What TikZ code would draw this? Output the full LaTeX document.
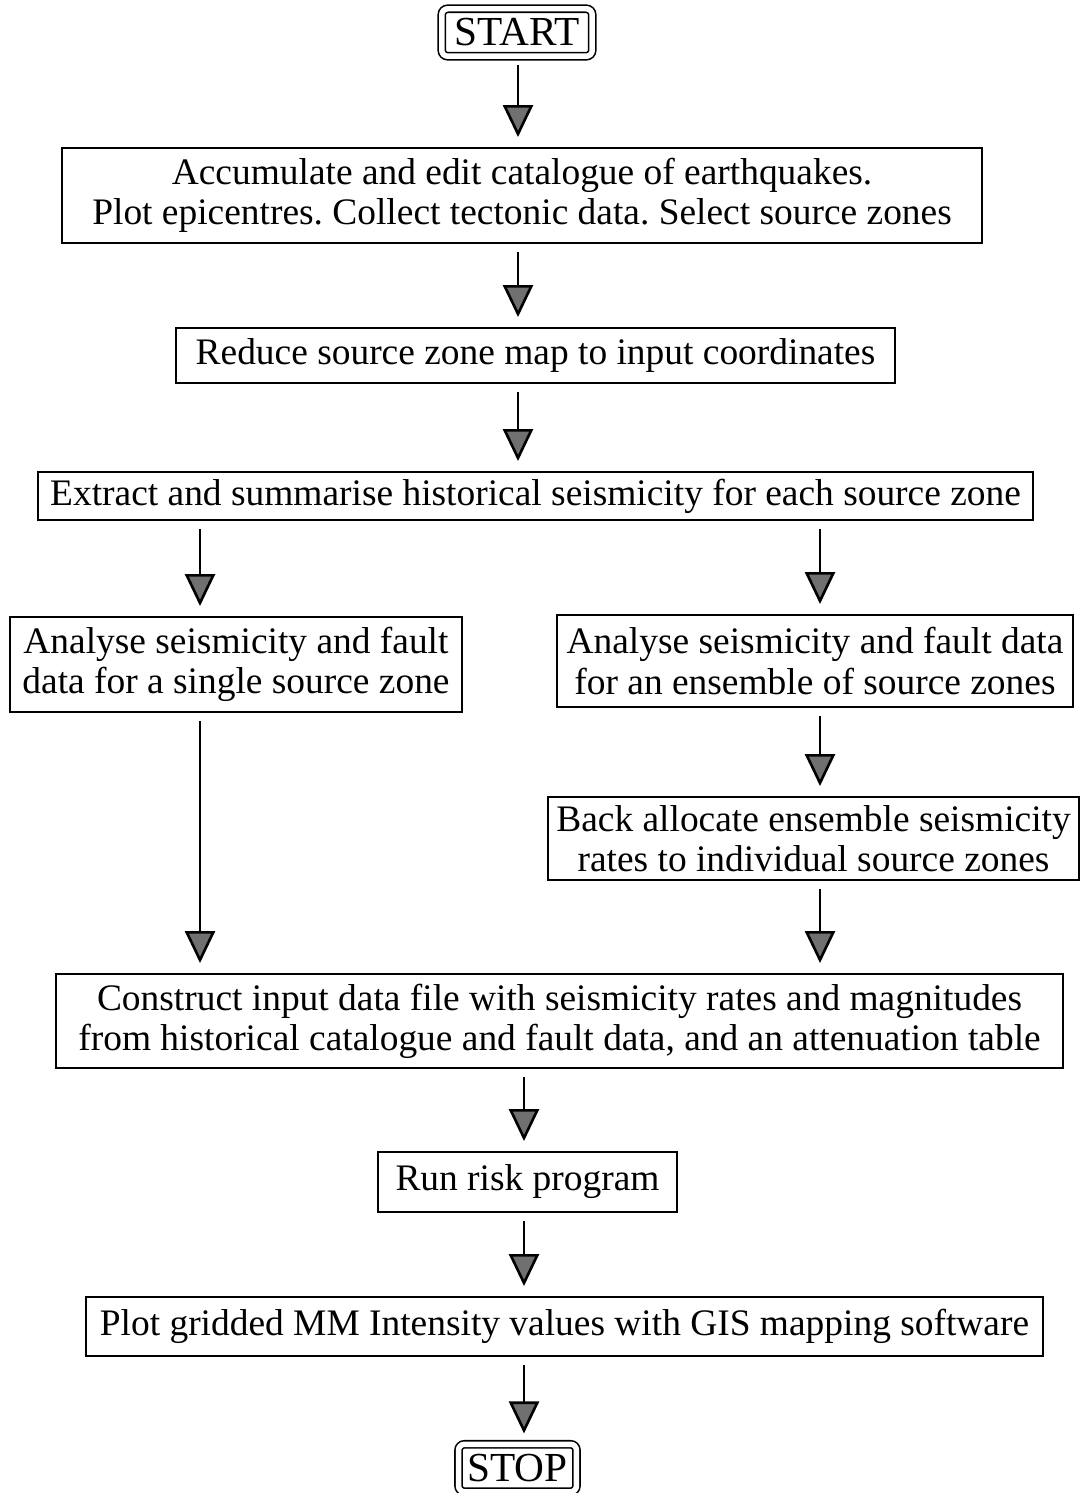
\documentclass[tikz,border=0pt]{standalone}
\usepackage{fontspec}
\setmainfont{Liberation Serif}
\usetikzlibrary{arrows.meta}
\definecolor{tipgray}{HTML}{707070}
\begin{document}
\frenchspacing
\begin{tikzpicture}[x=0.02cm,y=-0.02cm,
  box/.style={draw,line width=1.1pt,inner sep=0pt,align=center,font=\fontsize{21.3}{22.9}\selectfont},
  term/.style={box,double,double distance=0.11cm,rounded corners=0.12cm,line width=0.9pt,font=\fontsize{23.5}{25}\selectfont},
  arr/.style={line width=1.5pt,shorten <=0.16cm,shorten >=0.2cm,-{Triangle[width=0.6cm,length=0.64cm,fill=tipgray]}}]
\fill[white] (0,0) rectangle (1082,1493);
\useasboundingbox (0,0) rectangle (1082,1493);
% column coordinates for connectors
\coordinate (cx) at (518,0);
\coordinate (lx) at (200,0);
\coordinate (rx) at (820,0);
\coordinate (mx) at (524,0);
% nodes
\node[term,minimum width=3.01cm,minimum height=0.95cm] (start) at (517,32.5) {START};
\node[box,minimum width=18.4cm,minimum height=1.9cm] (b1) at (522,195.5)
  {Accumulate and edit catalogue of earthquakes.\\Plot epicentres. Collect tectonic data. Select source zones};
\node[box,minimum width=14.38cm,minimum height=1.1cm] (b2) at (535.5,355.5)
  {Reduce source zone map to input coordinates};
\node[box,minimum width=19.9cm,minimum height=0.96cm] (b3) at (535.5,496)
  {Extract and summarise historical seismicity for each source zone};
\node[box,minimum width=9.04cm,minimum height=1.9cm] (b4) at (236,664.5)
  {Analyse seismicity and fault\\data for a single source zone};
\node[box,minimum width=10.32cm,minimum height=1.84cm] (b5) at (815,661)
  {Analyse seismicity and fault data\\for an ensemble of source zones};
\node[box,minimum width=10.62cm,minimum height=1.66cm] (b6) at (813.5,838.5)
  {Back allocate ensemble seismicity\\rates to individual source zones};
\node[box,minimum width=20.14cm,minimum height=1.88cm] (b7) at (559.5,1021)
  {Construct input data file with seismicity rates and magnitudes\\from historical catalogue and fault data, and an attenuation table};
\node[box,minimum width=5.98cm,minimum height=1.2cm] (b8) at (527.5,1182)
  {Run risk program};
\node[box,minimum width=19.14cm,minimum height=1.18cm] (b9) at (564.5,1326.5)
  {Plot gridded MM Intensity values with GIS mapping software};
\node[term,minimum width=2.36cm,minimum height=0.95cm] (stop) at (517.5,1468) {STOP};
% connectors
\draw[arr] (start.south -| cx) -- (b1.north -| cx);
\draw[arr] (b1.south -| cx) -- (b2.north -| cx);
\draw[arr] (b2.south -| cx) -- (b3.north -| cx);
\draw[arr] (b3.south -| lx) -- (b4.north -| lx);
\draw[arr] (b3.south -| rx) -- (b5.north -| rx);
\draw[arr] (b5.south -| rx) -- (b6.north -| rx);
\draw[arr] (b4.south -| lx) -- (b7.north -| lx);
\draw[arr] (b6.south -| rx) -- (b7.north -| rx);
\draw[arr] (b7.south -| mx) -- (b8.north -| mx);
\draw[arr] (b8.south -| mx) -- (b9.north -| mx);
\draw[arr] (b9.south -| mx) -- (stop.north -| mx);
\end{tikzpicture}
\end{document}
